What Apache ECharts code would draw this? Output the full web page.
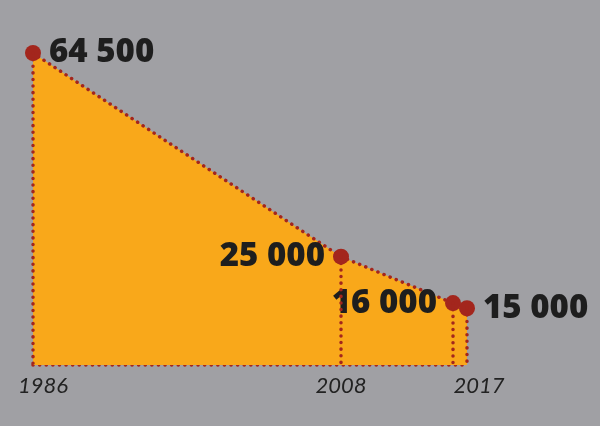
<!DOCTYPE html>
<html>
<head>
<meta charset="utf-8">
<script src="https://cdn.jsdelivr.net/npm/echarts@6/dist/echarts.min.js"></script>
<style>
  html, body { margin: 0; padding: 0; background: #a0a0a4; }
  #chart { width: 600px; height: 426px; }
</style>
</head>
<body>
<div id="chart"></div>
<script>
var years = [1986, 2008, 2016, 2017];
var values = [64500, 25000, 16000, 15000];
var labelSides = ['right', 'left', 'left', 'right'];
var yearStyles = ['first', 'n', 'l', 'r'];
var yFloor = 4000;

var chart = echarts.init(document.getElementById('chart'));

var red = '#a3261d';
var dotted = { color: red, width: 3.5, type: [0.1, 6.5], cap: 'round' };

var points = years.map(function (y, i) {
    return {
        value: [y, values[i]],
        label: { position: labelSides[i] }
    };
});

var drops = years.map(function (y, i) {
    return [{ coord: [y, values[i]] }, { coord: [y, yFloor] }];
});

var yearFont = { color: '#222', fontFamily: 'Lato', fontStyle: 'italic', fontSize: 22 };

chart.setOption({
    backgroundColor: '#a0a0a4',
    animation: false,
    grid: { left: 33, right: 133, top: 53, bottom: 61 },
    xAxis: {
        type: 'value',
        min: 1986,
        max: 2017,
        splitLine: { show: false },
        axisTick: { show: false },
        axisLine: { show: true, lineStyle: dotted },
        axisLabel: {
            customValues: years,
            showMinLabel: true,
            showMaxLabel: true,
            hideOverlap: false,
            margin: 10,
            formatter: function (v) {
                var i = years.indexOf(v);
                return '{' + yearStyles[i] + '|' + v + '}';
            },
            rich: {
                first: Object.assign({ padding: [0, 0, 0, 20] }, yearFont),
                n: Object.assign({}, yearFont),
                l: Object.assign({ padding: [0, 40, 0, 0] }, yearFont),
                r: Object.assign({ padding: [0, 0, 0, 24] }, yearFont)
            }
        }
    },
    yAxis: {
        type: 'value',
        min: yFloor,
        max: 64500,
        show: false
    },
    series: [{
        type: 'line',
        data: points,
        symbol: 'circle',
        symbolSize: 16,
        itemStyle: { color: red },
        lineStyle: dotted,
        areaStyle: { color: '#f9a81a', opacity: 1, origin: 'start' },
        label: {
            show: true,
            color: '#1e1e1e',
            fontFamily: 'Open Sans',
            fontWeight: 800,
            fontSize: 33,
            distance: 8,
            formatter: function (p) {
                return String(p.value[1]).replace(/\B(?=(\d{3})+(?!\d))/g, ' ');
            }
        },
        markLine: {
            silent: true,
            symbol: 'none',
            label: { show: false },
            lineStyle: dotted,
            data: drops
        },
        z: 3
    }]
});
</script>
</body>
</html>
